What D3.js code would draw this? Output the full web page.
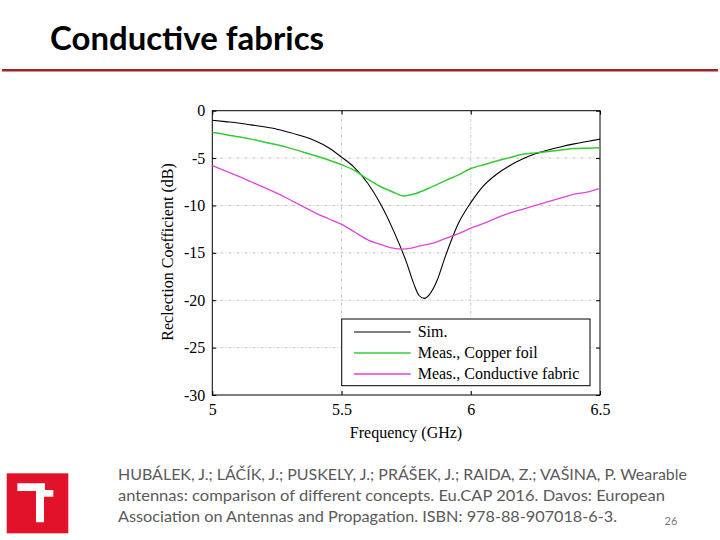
<!DOCTYPE html>
<html><head><meta charset="utf-8">
<script src="https://cdn.jsdelivr.net/npm/d3@7"></script>
<style>html,body{margin:0;padding:0;background:#fff;}svg{display:block;}</style>
</head><body>
<svg id="c" width="720" height="540"></svg>
<script>
const freqSim = [5.00,5.05,5.10,5.15,5.20,5.25,5.30,5.35,5.40,5.45,5.50,5.55,5.60,5.65,5.70,5.75,5.78,5.80,5.82,5.84,5.87,5.90,5.95,6.00,6.05,6.10,6.15,6.20,6.25,6.30,6.35,6.40,6.45,6.50];
const sim = [-1.0,-1.15,-1.3,-1.5,-1.7,-1.95,-2.3,-2.7,-3.2,-3.9,-4.9,-6.0,-7.6,-9.8,-12.6,-15.9,-18.3,-19.5,-19.8,-19.4,-17.9,-15.5,-12.0,-9.7,-7.9,-6.7,-5.8,-5.1,-4.55,-4.15,-3.8,-3.5,-3.25,-3.0];
const freqCopper = [5.00,5.05,5.10,5.15,5.20,5.25,5.30,5.35,5.40,5.45,5.50,5.55,5.60,5.65,5.70,5.74,5.78,5.82,5.86,5.90,5.95,6.00,6.05,6.10,6.15,6.20,6.25,6.30,6.35,6.40,6.45,6.50];
const copper = [-2.3,-2.5,-2.75,-3.0,-3.3,-3.6,-3.95,-4.35,-4.75,-5.2,-5.7,-6.3,-7.2,-8.0,-8.6,-9.0,-8.8,-8.4,-7.9,-7.4,-6.8,-6.1,-5.7,-5.3,-4.95,-4.6,-4.45,-4.3,-4.15,-4.0,-3.95,-3.9];
const freqFabric = [5.00,5.05,5.10,5.15,5.20,5.25,5.30,5.35,5.40,5.45,5.50,5.55,5.60,5.65,5.70,5.73,5.77,5.80,5.85,5.90,5.95,6.00,6.05,6.10,6.15,6.20,6.25,6.30,6.35,6.40,6.45,6.50];
const fabric = [-5.8,-6.35,-6.9,-7.5,-8.1,-8.7,-9.4,-10.1,-10.8,-11.4,-12.0,-12.8,-13.6,-14.1,-14.5,-14.6,-14.5,-14.3,-14.0,-13.5,-13.0,-12.4,-11.9,-11.3,-10.8,-10.4,-10.0,-9.6,-9.2,-8.8,-8.6,-8.2];
const xTicks = [5, 5.5, 6, 6.5];
const xTickLabels = ["5", "5.5", "6", "6.5"];
const yTicks = [0, -5, -10, -15, -20, -25, -30];
const yTickLabels = ["0", "-5", "-10", "-15", "-20", "-25", "-30"];
const seriesNames = ["Sim.", "Meas., Copper foil", "Meas., Conductive fabric"];
const seriesColors = ["#000000", "#33cc33", "#dd44dd"];
const title = "Conductive fabrics";
const citation = ["HUBÁLEK, J.; LÁČÍK, J.; PUSKELY, J.; PRÁŠEK, J.; RAIDA, Z.; VAŠINA, P. Wearable",
  "antennas: comparison of different concepts. Eu.CAP 2016. Davos: European",
  "Association on Antennas and Propagation. ISBN: 978-88-907018-6-3."];
const pageNum = "26";

const svg = d3.select("#c");
// Title
svg.append("text").attr("x", 50).attr("y", 50).text(title)
  .attr("font-family", "Lato, 'Open Sans', sans-serif").attr("font-weight", "bold")
  .attr("font-size", 33).attr("fill", "#000")
  .attr("textLength", 274).attr("lengthAdjust", "spacingAndGlyphs");
svg.append("line").attr("x1", 2).attr("x2", 718).attr("y1", 70.2).attr("y2", 70.2)
  .attr("stroke", "#a52222").attr("stroke-width", 2.4);

// Chart
const L = 212.3, R = 600, T = 110.7, B = 395;
const x = d3.scaleLinear().domain([5, 6.5]).range([L, R]);
const y = d3.scaleLinear().domain([-30, 0]).range([B, T]);
const g = svg.append("g");
const serif = "'Liberation Serif', 'DejaVu Serif', serif";
const fs = 16;

// grid
g.selectAll(".gx").data(xTicks.slice(1, -1)).enter().append("line")
  .attr("x1", d => x(d)).attr("x2", d => x(d)).attr("y1", T).attr("y2", B)
  .attr("stroke", "#b8b8b8").attr("stroke-width", 0.8).attr("stroke-dasharray", "3,2,1,2");
g.selectAll(".gy").data(yTicks.slice(1, -1)).enter().append("line")
  .attr("y1", d => y(d)).attr("y2", d => y(d)).attr("x1", L).attr("x2", R)
  .attr("stroke", "#b8b8b8").attr("stroke-width", 0.8).attr("stroke-dasharray", "3,2,1,2");

// axes with inward ticks
const ax = d3.axisBottom(x).tickValues(xTicks).tickFormat((d, i) => xTickLabels[i]).tickSizeInner(-4).tickSizeOuter(0).tickPadding(9);
const axT = d3.axisTop(x).tickValues(xTicks).tickFormat("").tickSizeInner(-4).tickSizeOuter(0);
const ay = d3.axisLeft(y).tickValues(yTicks).tickFormat((d, i) => yTickLabels[i]).tickSizeInner(-4).tickSizeOuter(0).tickPadding(7);
const ayR = d3.axisRight(y).tickValues(yTicks).tickFormat("").tickSizeInner(-4).tickSizeOuter(0);
function styleAxis(sel) {
  sel.select(".domain").remove();
  sel.selectAll("line").attr("stroke", "#000");
  sel.selectAll("text").attr("font-family", serif).attr("font-size", fs).attr("fill", "#000");
}
g.append("g").attr("transform", `translate(0,${B})`).call(ax).call(styleAxis);
g.append("g").attr("transform", `translate(0,${T})`).call(axT).call(styleAxis);
g.append("g").attr("transform", `translate(${L},0)`).call(ay).call(styleAxis);
g.append("g").attr("transform", `translate(${R},0)`).call(ayR).call(styleAxis);
g.append("rect").attr("x", L).attr("y", T).attr("width", R - L).attr("height", B - T)
  .attr("fill", "none").attr("stroke", "#000").attr("stroke-width", 1);

// series
const line = d3.line().x(d => x(d[0])).y(d => y(d[1])).curve(d3.curveMonotoneX);
const series = [
  { f: freqSim, v: sim, w: 1.1 },
  { f: freqCopper, v: copper, w: 1.5 },
  { f: freqFabric, v: fabric, w: 1.3 }
];
series.forEach((s, i) => {
  g.append("path").datum(s.f.map((f, j) => [f, s.v[j]]))
    .attr("d", line).attr("fill", "none").attr("stroke", seriesColors[i]).attr("stroke-width", s.w);
});

// axis labels
g.append("text").attr("x", 406).attr("y", 438).attr("text-anchor", "middle")
  .attr("font-family", serif).attr("font-size", fs).attr("fill", "#000").text("Frequency (GHz)");
g.append("text").attr("transform", "translate(173,252) rotate(-90)").attr("text-anchor", "middle")
  .attr("font-family", serif).attr("font-size", fs).attr("fill", "#000").text("Reclection Coefficient (dB)");

// legend
const lg = g.append("g");
lg.append("rect").attr("x", 341.7).attr("y", 319).attr("width", 248.3).attr("height", 66.7)
  .attr("fill", "#fff").attr("stroke", "#000").attr("stroke-width", 1);
seriesNames.forEach((n, i) => {
  const yy = 332 + i * 21;
  lg.append("line").attr("x1", 354).attr("x2", 410.7).attr("y1", yy).attr("y2", yy)
    .attr("stroke", seriesColors[i]).attr("stroke-width", series[i].w);
  lg.append("text").attr("x", 417.7).attr("y", yy + 5).text(n)
    .attr("font-family", serif).attr("font-size", fs).attr("fill", "#000");
});

// footer logo
svg.append("rect").attr("x", 6.7).attr("y", 473.3).attr("width", 61.6).attr("height", 60)
  .attr("fill", "#e2122a");
const logoPts = [[52,55],[135,55],[135,75],[160,75],[160,95],[132,95],[132,172],[108,172],[108,78],[52,78]];
svg.append("polygon").attr("points", logoPts.map(p => `${p[0]/3},${p[1]/3 + 465}`).join(" "))
  .attr("fill", "#fff");

// citation
const cw = [569, 547, 499];
citation.forEach((c, i) => {
  svg.append("text").attr("x", 118).attr("y", 480 + i * 21).text(c)
    .attr("font-family", "Lato, 'Open Sans', sans-serif").attr("font-size", 15).attr("fill", "#5a5a5a")
    .attr("textLength", cw[i]).attr("lengthAdjust", "spacingAndGlyphs");
});
svg.append("text").attr("x", 671).attr("y", 525).attr("text-anchor", "middle").text(pageNum)
  .attr("font-family", "Lato, 'Open Sans', sans-serif").attr("font-size", 11).attr("fill", "#777");
</script>
</body></html>
